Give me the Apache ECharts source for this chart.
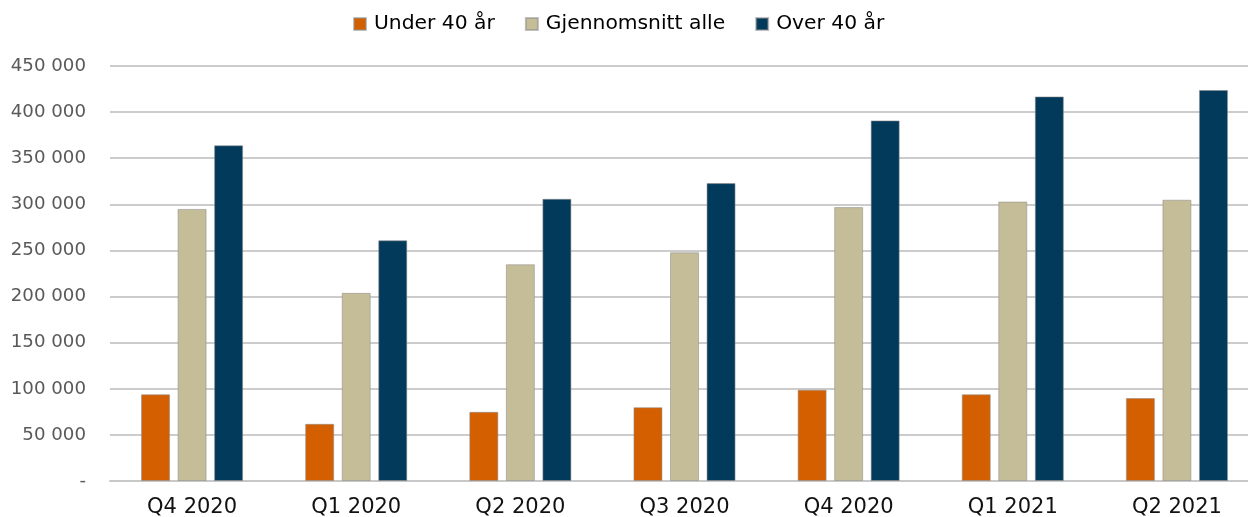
<!DOCTYPE html>
<html>
<head>
<meta charset="utf-8">
<script src="https://cdn.jsdelivr.net/npm/echarts@6/dist/echarts.min.js"></script>
<style>
  html, body { margin: 0; padding: 0; background: #fff; }
  #main { width: 1248px; height: 517px; }
</style>
</head>
<body>
<div id="main"></div>
<script>
// kategorier (kvartaler)
var kvartaler = ['Q4 2020', 'Q1 2020', 'Q2 2020', 'Q3 2020', 'Q4 2020 ', 'Q1 2021', 'Q2 2021'];
// serier
var under40 = [94000, 62000, 75000, 80000, 99000, 94000, 90000];
var snittAlle = [295000, 204000, 235000, 248000, 297000, 303000, 305000];
var over40 = [364000, 261000, 306000, 323000, 391000, 417000, 424000];
// y-akse
var yMin = 0, yMax = 450000, yStep = 50000;

var chart = echarts.init(document.getElementById('main'));
var font = 'DejaVu Sans';

function fmt(v) {
  if (v === 0) return '-';
  return String(v).replace(/\B(?=(\d{3})+(?!\d))/g, ' ');
}

var barStyle = function (c) {
  return { color: c, borderColor: 'rgba(140,140,140,0.55)', borderWidth: 1 };
};

chart.setOption({
  animation: false,
  textStyle: { fontFamily: font },
  legend: {
    top: 9,
    left: 348,
    itemWidth: 12,
    itemHeight: 12,
    itemGap: 30,
    icon: 'rect',
    textStyle: { fontSize: 20.3, color: '#000', fontFamily: font, padding: [0, 0, 0, 3] },
    data: ['Under 40 år', 'Gjennomsnitt alle', 'Over 40 år']
  },
  grid: { left: 110, right: -11, top: 66, bottom: 36, containLabel: false, outerBoundsMode: 'none' },
  xAxis: {
    type: 'category',
    data: kvartaler,
    axisLine: { lineStyle: { color: '#c8c8c8', width: 2 } },
    axisTick: { show: false },
    axisLabel: { color: '#111', fontSize: 21, margin: 16, fontFamily: font,
      formatter: function (v) { return v.trim(); } }
  },
  yAxis: {
    type: 'value',
    min: yMin,
    max: yMax,
    interval: yStep,
    axisLine: { show: false },
    axisTick: { show: false },
    splitLine: { lineStyle: { color: '#cccccc', width: 2 } },
    axisLabel: { color: '#595959', fontSize: 18.2, margin: 24, formatter: fmt, fontFamily: font }
  },
  series: [
    { name: 'Under 40 år', type: 'bar', barWidth: 29, barGap: '26%', data: under40, itemStyle: barStyle('#d45f00') },
    { name: 'Gjennomsnitt alle', type: 'bar', barWidth: 29, barGap: '26%', data: snittAlle, itemStyle: barStyle('#c5bd98') },
    { name: 'Over 40 år', type: 'bar', barWidth: 29, barGap: '26%', data: over40, itemStyle: barStyle('#023a5b') }
  ]
});
</script>
</body>
</html>
